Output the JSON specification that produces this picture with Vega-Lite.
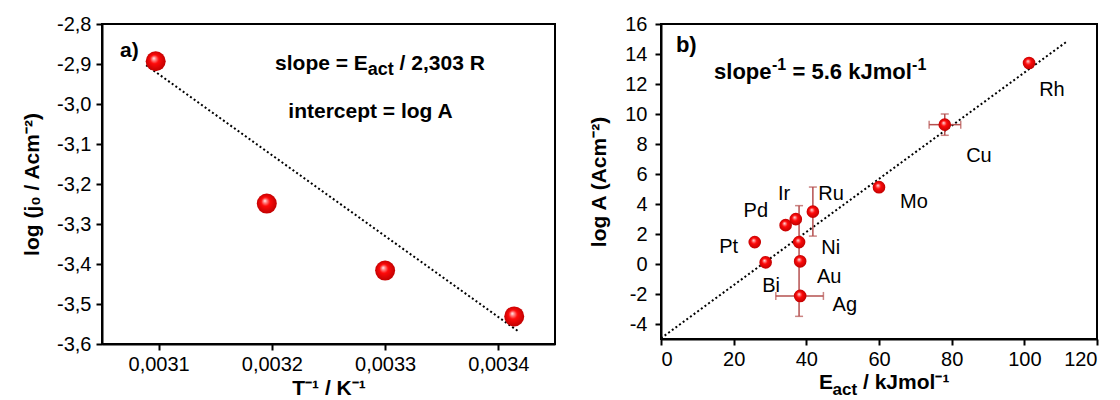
{
  "$schema": "https://vega.github.io/schema/vega-lite/v6.json",
  "padding": {"left": 20, "top": 13, "right": 5, "bottom": 0},
  "background": "#ffffff",
  "spacing": 31,
  "config": {
    "font": "Liberation Sans",
    "view": {"stroke": "#000000", "strokeWidth": 2},
    "axis": {
      "grid": false,
      "labelOverlap": false,
      "domainColor": "#000000",
      "domainWidth": 2,
      "tickColor": "#000000",
      "tickWidth": 2,
      "tickSize": 6,
      "labelFont": "Liberation Sans",
      "labelFontSize": 20,
      "labelColor": "#000000",
      "titleFont": "Liberation Sans",
      "titleFontSize": 21,
      "titleFontWeight": "bold",
      "titleColor": "#000000"
    }
  },
  "datasets": {
    "fitA": [
      {"invT": 0.003089, "logj": -2.903},
      {"invT": 0.003417, "logj": -3.567}
    ],
    "pointsA": [
      {"invT": 0.0030974, "logj": -2.893},
      {"invT": 0.0031955, "logj": -3.249},
      {"invT": 0.0033, "logj": -3.4165},
      {"invT": 0.003414, "logj": -3.531}
    ],
    "notesA": [
      {"text": "a)", "invT": 0.0030659, "logj": -2.882},
      {"text": "slope = E", "invT": 0.0032028, "logj": -2.914},
      {"text": "/ 2,303 R", "invT": 0.0033128, "logj": -2.914},
      {"text": "intercept = log A", "invT": 0.0032145, "logj": -3.035}
    ],
    "subA": [
      {"text": "act", "invT": 0.0032847, "logj": -2.927}
    ],
    "fitB": [
      {"E": 0, "A": -4.95},
      {"E": 111.8, "A": 14.85}
    ],
    "pointsB": [
      {"metal": "Pt", "E": 25.8, "A": 1.46},
      {"metal": "Bi", "E": 28.8, "A": 0.11},
      {"metal": "Pd", "E": 34.3, "A": 2.59},
      {"metal": "Ir", "E": 37.1, "A": 2.99},
      {"metal": "Ni", "E": 38.0, "A": 1.46},
      {"metal": "Au", "E": 38.3, "A": 0.18},
      {"metal": "Ag", "E": 38.3, "A": -2.13},
      {"metal": "Ru", "E": 41.8, "A": 3.49},
      {"metal": "Mo", "E": 60.0, "A": 5.12},
      {"metal": "Cu", "E": 78.1, "A": 9.29},
      {"metal": "Rh", "E": 101.3, "A": 13.4}
    ],
    "errV": [
      {"metal": "Au", "E": 38.0, "A": -3.49, "A2": 3.89},
      {"metal": "Ru", "E": 41.8, "A": 1.86, "A2": 5.13},
      {"metal": "Cu", "E": 78.1, "A": 8.58, "A2": 10.0}
    ],
    "errH": [
      {"metal": "Ag", "E": 31.6, "E2": 44.7, "A": -2.13},
      {"metal": "Cu", "E": 73.8, "E2": 82.5, "A": 9.29}
    ],
    "labelsB": [
      {"metal": "Rh", "E": 107.6, "A": 11.57},
      {"metal": "Cu", "E": 87.5, "A": 7.22},
      {"metal": "Mo", "E": 69.6, "A": 4.16},
      {"metal": "Ru", "E": 46.8, "A": 4.68},
      {"metal": "Ir", "E": 33.9, "A": 4.68},
      {"metal": "Pd", "E": 26.1, "A": 3.51},
      {"metal": "Pt", "E": 18.6, "A": 1.15},
      {"metal": "Ni", "E": 46.7, "A": 1.08},
      {"metal": "Au", "E": 46.3, "A": -0.84},
      {"metal": "Bi", "E": 30.3, "A": -1.47},
      {"metal": "Ag", "E": 50.6, "A": -2.75}
    ],
    "notesB": [
      {"text": "b)", "E": 4.1, "A": 14.13},
      {"text": "slope", "E": 14.6, "A": 12.33},
      {"text": "= 5.6 kJmol", "E": 36.2, "A": 12.33}
    ],
    "supB": [
      {"text": "-1", "E": 30.55, "A": 12.94},
      {"text": "-1", "E": 69.1, "A": 12.94}
    ],
    "titleB": [
      {"text": "E", "E": 43.5, "A": -8.3},
      {"text": "/ kJmol⁻¹", "E": 55.6, "A": -8.3}
    ],
    "titleSubB": [
      {"text": "act", "E": 47.2, "A": -8.7}
    ]
  },
  "hconcat": [
    {
      "width": 453,
      "height": 320,
      "encoding": {
        "x": {
          "field": "invT",
          "type": "quantitative",
          "scale": {"domain": [0.00305, 0.00345], "nice": false, "zero": false},
          "axis": {
            "values": [0.0031, 0.0032, 0.0033, 0.0034],
            "labelExpr": "replace(format(datum.value,'.4f'),'.',',')",
            "title": "T⁻¹ / K⁻¹",
            "labelPadding": 4,
            "titlePadding": 3,
            "labelOverlap": false
          }
        },
        "y": {
          "field": "logj",
          "type": "quantitative",
          "scale": {"domain": [-3.6, -2.8], "nice": false, "zero": false},
          "axis": {
            "values": [-3.6, -3.5, -3.4, -3.3, -3.2, -3.1, -3.0, -2.9, -2.8],
            "labelExpr": "replace(replace(format(datum.value,'.1f'),'.',','),'\u2212','-')",
            "title": "log (j₀ / Acm⁻²)",
            "labelPadding": 5,
            "titlePadding": 14,
            "labelOverlap": false
          }
        }
      },
      "layer": [
        {
          "data": {"name": "fitA"},
          "mark": {"type": "line", "color": "#000000", "strokeWidth": 2, "strokeDash": [2, 2.5]}
        },
        {
          "data": {"name": "pointsA"},
          "mark": {
            "type": "point",
            "shape": "circle",
            "filled": true,
            "size": 400,
            "opacity": 1,
            "strokeWidth": 0,
            "fill": {
              "gradient": "radial",
              "x1": 0.4, "y1": 0.35, "r1": 0,
              "x2": 0.5, "y2": 0.5, "r2": 0.55,
              "stops": [
                {"offset": 0, "color": "#ffffff"},
                {"offset": 0.15, "color": "#ff9090"},
                {"offset": 0.4, "color": "#ff0a0a"},
                {"offset": 1, "color": "#b80000"}
              ]
            }
          }
        },
        {
          "data": {"name": "notesA"},
          "mark": {"type": "text", "align": "left", "baseline": "alphabetic", "font": "Liberation Sans", "fontSize": 21, "fontWeight": "bold", "color": "#000000"},
          "encoding": {"text": {"field": "text", "type": "nominal"}}
        },
        {
          "data": {"name": "subA"},
          "mark": {"type": "text", "align": "left", "baseline": "alphabetic", "font": "Liberation Sans", "fontSize": 18, "fontWeight": "bold", "color": "#000000"},
          "encoding": {"text": {"field": "text", "type": "nominal"}}
        }
      ]
    },
    {
      "width": 436,
      "height": 315,
      "encoding": {
        "x": {
          "field": "E",
          "type": "quantitative",
          "scale": {"domain": [0, 120], "nice": false, "zero": false},
          "axis": {"values": [0, 20, 40, 60, 80, 100, 120], "title": null, "labelPadding": 4, "labelOverlap": false}
        },
        "y": {
          "field": "A",
          "type": "quantitative",
          "scale": {"domain": [-5, 16], "nice": false, "zero": false},
          "axis": {
            "values": [-4, -2, 0, 2, 4, 6, 8, 10, 12, 14, 16],
            "labelExpr": "datum.value < 0 ? '-' + format(-datum.value,'d') : format(datum.value,'d')",
            "title": "log A (Acm⁻²)",
            "labelPadding": 8,
            "titlePadding": 15,
            "labelOverlap": false,
            "labelSeparation": 0
          }
        }
      },
      "layer": [
        {
          "data": {"name": "fitB"},
          "mark": {"type": "line", "color": "#000000", "strokeWidth": 2, "strokeDash": [2, 2.5]}
        },
        {
          "data": {"name": "errV"},
          "mark": {"type": "rule", "color": "#b5504f", "strokeWidth": 1.5},
          "encoding": {"y2": {"field": "A2"}}
        },
        {
          "data": {"name": "errV"},
          "mark": {"type": "tick", "orient": "horizontal", "color": "#b5504f", "size": 8, "thickness": 1.5}
        },
        {
          "data": {"name": "errV"},
          "mark": {"type": "tick", "orient": "horizontal", "color": "#b5504f", "size": 8, "thickness": 1.5},
          "encoding": {"y": {"field": "A2", "type": "quantitative"}}
        },
        {
          "data": {"name": "errH"},
          "mark": {"type": "rule", "color": "#b5504f", "strokeWidth": 1.5},
          "encoding": {"x2": {"field": "E2"}}
        },
        {
          "data": {"name": "errH"},
          "mark": {"type": "tick", "orient": "vertical", "color": "#b5504f", "size": 8, "thickness": 1.5}
        },
        {
          "data": {"name": "errH"},
          "mark": {"type": "tick", "orient": "vertical", "color": "#b5504f", "size": 8, "thickness": 1.5},
          "encoding": {"x": {"field": "E2", "type": "quantitative"}}
        },
        {
          "data": {"name": "pointsB"},
          "mark": {
            "type": "point",
            "shape": "circle",
            "filled": true,
            "size": 160,
            "opacity": 1,
            "strokeWidth": 0,
            "fill": {
              "gradient": "radial",
              "x1": 0.4, "y1": 0.35, "r1": 0,
              "x2": 0.5, "y2": 0.5, "r2": 0.55,
              "stops": [
                {"offset": 0, "color": "#ffffff"},
                {"offset": 0.15, "color": "#ff9090"},
                {"offset": 0.4, "color": "#ff0a0a"},
                {"offset": 1, "color": "#b80000"}
              ]
            }
          }
        },
        {
          "data": {"name": "labelsB"},
          "mark": {"type": "text", "align": "center", "baseline": "middle", "font": "Liberation Sans", "fontSize": 20, "color": "#000000"},
          "encoding": {"text": {"field": "metal", "type": "nominal"}}
        },
        {
          "data": {"name": "notesB"},
          "mark": {"type": "text", "align": "left", "baseline": "alphabetic", "font": "Liberation Sans", "fontSize": 22, "fontWeight": "bold", "color": "#000000"},
          "encoding": {"text": {"field": "text", "type": "nominal"}}
        },
        {
          "data": {"name": "supB"},
          "mark": {"type": "text", "align": "left", "baseline": "alphabetic", "font": "Liberation Sans", "fontSize": 16, "fontWeight": "bold", "color": "#000000"},
          "encoding": {"text": {"field": "text", "type": "nominal"}}
        },
        {
          "data": {"name": "titleB"},
          "mark": {"type": "text", "align": "left", "baseline": "alphabetic", "font": "Liberation Sans", "fontSize": 21, "fontWeight": "bold", "color": "#000000"},
          "encoding": {"text": {"field": "text", "type": "nominal"}}
        },
        {
          "data": {"name": "titleSubB"},
          "mark": {"type": "text", "align": "left", "baseline": "alphabetic", "font": "Liberation Sans", "fontSize": 17, "fontWeight": "bold", "color": "#000000"},
          "encoding": {"text": {"field": "text", "type": "nominal"}}
        }
      ]
    }
  ]
}
